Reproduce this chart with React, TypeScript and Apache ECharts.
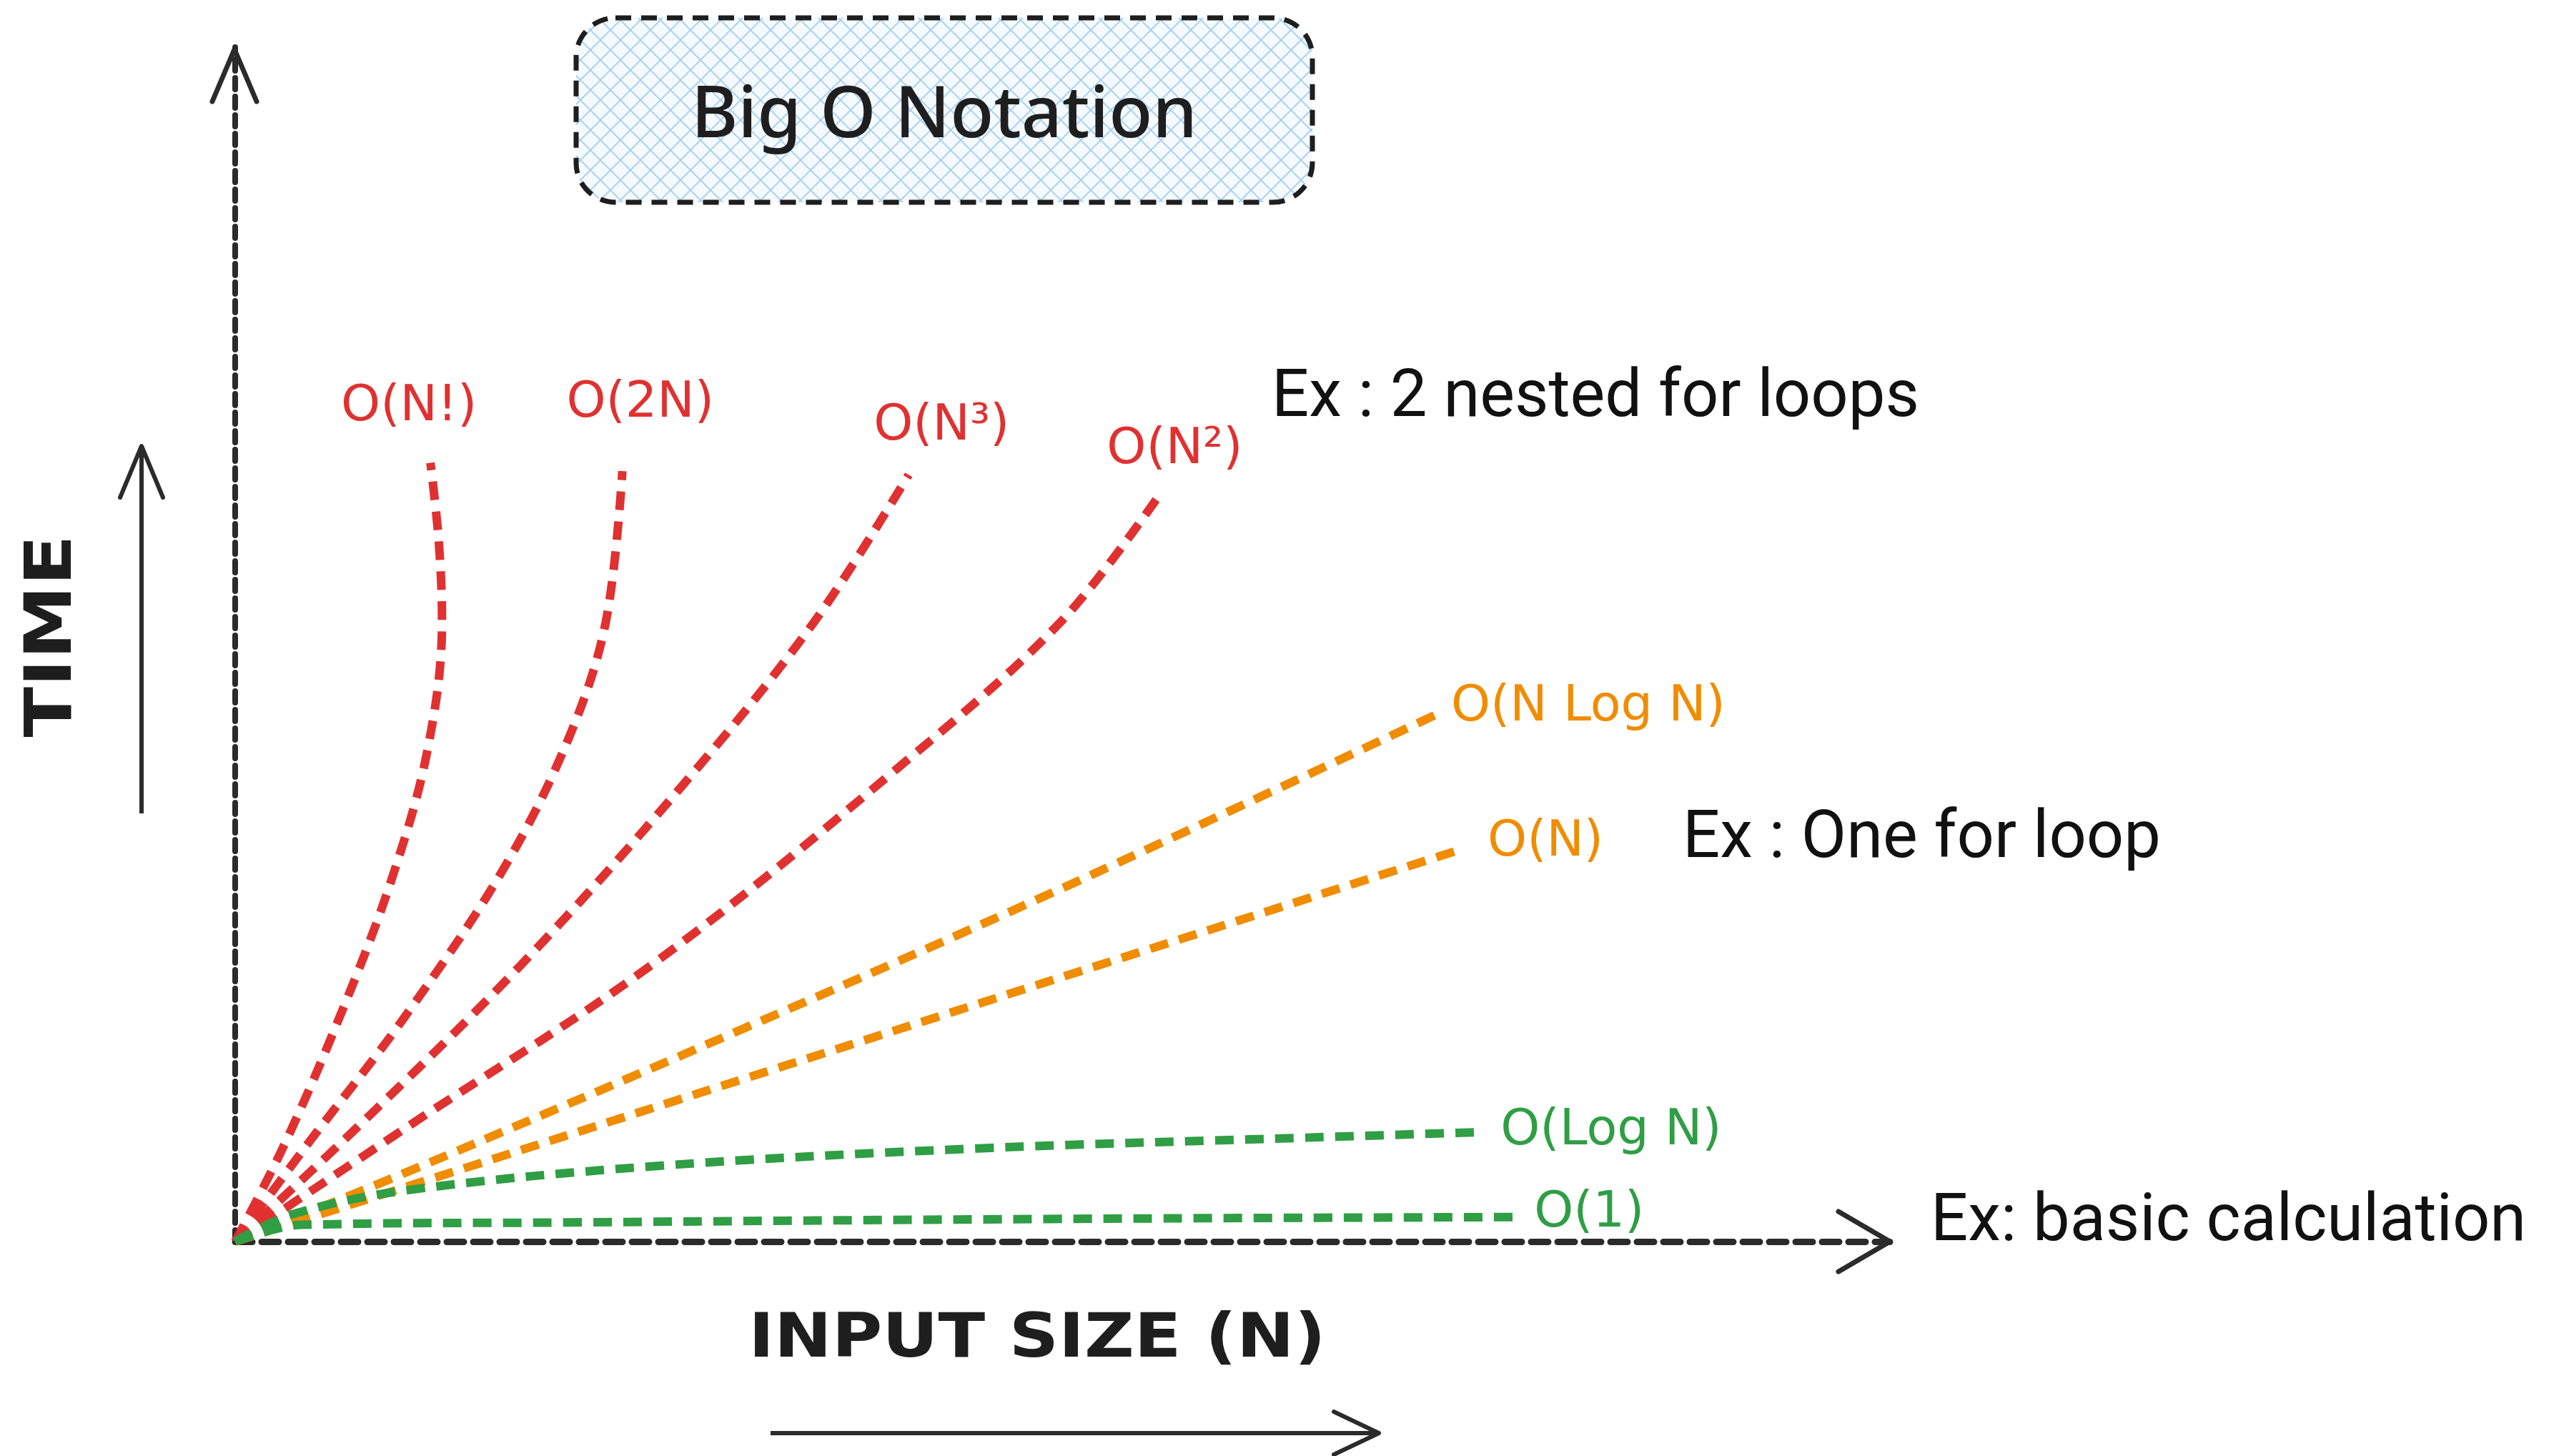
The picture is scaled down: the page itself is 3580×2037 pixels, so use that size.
import React, { useEffect, useRef } from "react";
import * as echarts from "echarts";

// ---- Data (axis units 0..100 on both axes) ----
const curveNames = ["O(N!)", "O(2N)", "O(N³)", "O(N²)", "O(N Log N)", "O(N)", "O(Log N)", "O(1)"];

const factorialPts = [[0, 0], [3.0, 8.2], [6.4, 19.1], [9.4, 30.1], [11.6, 41.0], [12.5, 51.9], [12.3, 58.7], [11.8, 65.2]];
const exponentialPts = [[0, 0], [4.4, 8.2], [10.4, 19.1], [16.3, 31.4], [20.2, 42.3], [22.4, 51.9], [23.4, 64.5]];
const cubicPts = [[0, 0], [7.4, 9.6], [17.3, 23.2], [27.1, 38.3], [35.0, 51.9], [40.7, 64.2]];
const quadraticPts = [[0, 0], [10.4, 9.6], [25.2, 23.2], [40.0, 39.6], [49.9, 51.9], [56.0, 62.8]];
const nLogNPts = [[0, 0], [10, 5.6], [30, 17.4], [50, 29.6], [73.0, 44.4]];
const linearPts = [[0, 0], [37, 16.4], [74.0, 32.8]];
const logPts = [[0, 0], [3.5, 2.3], [10.4, 4.3], [25.2, 6.3], [44.9, 7.8], [64.7, 8.7], [75.0, 9.15]];
const constantPts = [[0, 0], [4, 1.4], [20, 1.6], [50, 1.9], [77.5, 2.05]];

const curveData = [factorialPts, exponentialPts, cubicPts, quadraticPts, nLogNPts, linearPts, logPts, constantPts];

const exampleTexts = ["Ex : 2 nested for loops", "Ex : One for loop", "Ex: basic calculation"];
const titleText = "Big O Notation";
const xAxisTitle = "INPUT SIZE (N)";
const yAxisTitle = "TIME";

// ---- Styles ----
const RED = "#e03131";
const ORANGE = "#f08c00";
const GREEN = "#2f9e44";
const INK = "#1e1e1e";
const curveColors = [RED, RED, RED, RED, ORANGE, ORANGE, GREEN, GREEN];
// label placement relative to curve end (px): [dx, dy, align]
const labelPlacement: [number, number, string][] = [
  [-30, -84, "center"],
  [25, -100, "center"],
  [46, -73, "center"],
  [18, -64, "center"],
  [11, -11, "left"],
  [39, -16, "left"],
  [34, -7, "left"],
  [23, -11, "left"],
];

const HAND_FONT = "'DejaVu Sans', 'Noto Sans', sans-serif";
const TITLE_FONT = "'Noto Sans', 'DejaVu Sans', sans-serif";
const TEXT_FONT = "Roboto, 'Noto Sans', sans-serif";

const hatchSvg =
  "<svg xmlns='http://www.w3.org/2000/svg' width='28' height='28'><path d='M0 0L28 28M28 0L0 28' stroke='#9fcbf0' stroke-width='1.6' fill='none'/></svg>";
const hatchUrl = "data:image/svg+xml;charset=utf-8," + encodeURIComponent(hatchSvg);

export default function App() {
  const ref = useRef<HTMLDivElement>(null);

  useEffect(() => {
    const chart = echarts.init(ref.current!, null, { renderer: "svg" });

    const series = curveNames.map((name, i) => ({
      type: "line",
      name,
      data: curveData[i],
      smooth: 0.35,
      symbol: "none",
      showSymbol: false,
      z: 3,
      lineStyle: { color: curveColors[i], width: 12, type: [26, 16] },
    }));

    chart.setOption({
      animation: false,
      backgroundColor: "#ffffff",
      grid: { left: 329, top: 66, right: 936, bottom: 300, containLabel: false },
      xAxis: {
        type: "value",
        min: 0,
        max: 100,
        axisLine: { show: true, lineStyle: { color: "#2b2b2b", width: 9, type: [24, 13] } },
        axisTick: { show: false },
        axisLabel: { show: false },
        splitLine: { show: false },
      },
      yAxis: {
        type: "value",
        min: 0,
        max: 100,
        axisLine: { show: true, lineStyle: { color: "#2b2b2b", width: 8, type: [16, 10] } },
        axisTick: { show: false },
        axisLabel: { show: false },
        splitLine: { show: false },
      },
      series,
    });

    const curveLabels = curveNames.map((name, i) => {
      const pts = curveData[i];
      const last = pts[pts.length - 1];
      const p = chart.convertToPixel({ gridIndex: 0 }, last) as number[];
      const [dx, dy, align] = labelPlacement[i];
      return {
        type: "text",
        x: p[0] + dx,
        y: p[1] + dy,
        z: 10,
        style: {
          text: name,
          fill: curveColors[i],
          font: `70px ${HAND_FONT}`,
          align,
          verticalAlign: "middle",
        },
      };
    });

    const arrowStyle = { stroke: "#2b2b2b", lineWidth: 7, fill: "none", lineCap: "round", lineJoin: "round" };

    chart.setOption({
      graphic: [
        // Title box
        {
          type: "rect",
          shape: { x: 806, y: 25, width: 1030, height: 258, r: 55 },
          style: { fill: "#f4faff" },
          z: 1,
        },
        {
          type: "rect",
          shape: { x: 806, y: 25, width: 1030, height: 258, r: 55 },
          style: {
            fill: { image: hatchUrl, repeat: "repeat", imageWidth: 28, imageHeight: 28 },
            stroke: INK,
            lineWidth: 7,
            lineDash: [22, 14],
          },
          z: 2,
        },
        {
          type: "text",
          x: 1321,
          y: 153,
          z: 5,
          style: { text: titleText, fill: INK, font: `500 100px ${TITLE_FONT}`, align: "center", verticalAlign: "middle" },
        },
        // Axis arrowheads
        { type: "polyline", shape: { points: [[297, 142], [328, 69], [359, 142]] }, style: arrowStyle, z: 5 },
        { type: "polyline", shape: { points: [[2572, 1695], [2644, 1737], [2572, 1779]] }, style: arrowStyle, z: 5 },
        // TIME arrow
        { type: "line", shape: { x1: 198, y1: 1138, x2: 198, y2: 624 }, style: { stroke: "#2b2b2b", lineWidth: 6 }, z: 5 },
        { type: "polyline", shape: { points: [[168, 696], [198, 624], [228, 696]] }, style: { ...arrowStyle, lineWidth: 6 }, z: 5 },
        // INPUT SIZE arrow
        { type: "line", shape: { x1: 1078, y1: 2005, x2: 1929, y2: 2005 }, style: { stroke: "#2b2b2b", lineWidth: 6 }, z: 5 },
        { type: "polyline", shape: { points: [[1866, 1975], [1929, 2005], [1866, 2035]] }, style: { ...arrowStyle, lineWidth: 6 }, z: 5 },
        // Axis titles
        {
          type: "text",
          x: 1451,
          y: 1868,
          scaleX: 1.12,
          z: 5,
          style: { text: xAxisTitle, fill: INK, font: `bold 86px ${HAND_FONT}`, align: "center", verticalAlign: "middle" },
        },
        {
          type: "text",
          x: 68,
          y: 890,
          rotation: Math.PI / 2,
          scaleX: 1.15,
          z: 5,
          style: { text: yAxisTitle, fill: INK, font: `bold 90px ${HAND_FONT}`, align: "center", verticalAlign: "middle" },
        },
        // Example annotations
        {
          type: "text",
          x: 1779,
          y: 550,
          z: 5,
          style: { text: exampleTexts[0], fill: "#111", font: `92px ${TEXT_FONT}`, align: "left", verticalAlign: "middle" },
        },
        {
          type: "text",
          x: 2354,
          y: 1167,
          z: 5,
          style: { text: exampleTexts[1], fill: "#111", font: `92px ${TEXT_FONT}`, align: "left", verticalAlign: "middle" },
        },
        {
          type: "text",
          x: 2701,
          y: 1703,
          z: 5,
          style: { text: exampleTexts[2], fill: "#111", font: `92px ${TEXT_FONT}`, align: "left", verticalAlign: "middle" },
        },
        ...curveLabels,
      ],
    });

    return () => chart.dispose();
  }, []);

  return (
    <div
      ref={ref}
      style={{ position: "absolute", left: 0, top: 0, width: 3580, height: 2037, background: "#ffffff" }}
    />
  );
}
